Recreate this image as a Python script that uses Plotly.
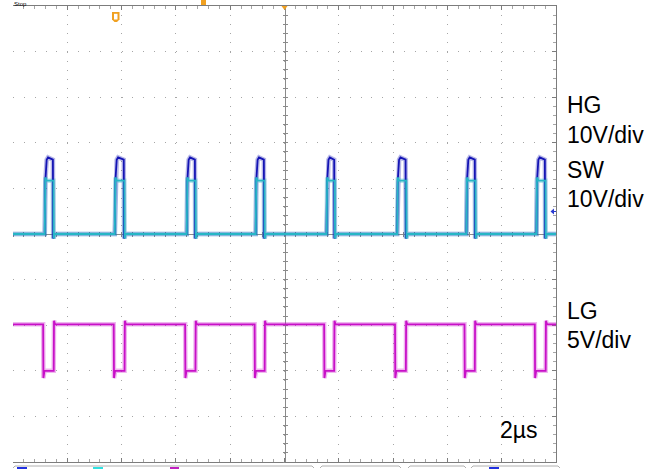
import plotly.graph_objects as go

# ---------------- data (read from the scope capture) ----------------
time_per_div_us = 2.0
hg_volts_per_div = 10.0
sw_volts_per_div = 10.0
lg_volts_per_div = 5.0
hg_offset_div = 0.0
sw_offset_div = 0.0
lg_offset_div = -3.0

# switching edges (µs, relative to screen centre)
hg_rise_us = [-8.83, -6.25, -3.60, -1.06, 1.55, 4.15, 6.70, 9.28]
hg_fall_us = [-8.53, -5.92, -3.30, -0.76, 1.83, 4.46, 7.01, 9.59]
lg_fall_us = [-8.89, -6.29, -3.66, -1.10, 1.46, 4.07, 6.63, 9.22]
lg_rise_us = [-8.50, -5.89, -3.28, -0.73, 1.83, 4.47, 7.01, 9.62]

# levels (V)
hg_high_v = 16.3
hg_peak_v = 16.8
hg_step_v = 11.5
sw_high_v = 11.7
sw_overshoot_v = 12.4
sw_undershoot_v = -1.0
lg_high_v = 5.1
lg_overshoot_v = 5.5
lg_undershoot_v = -0.8

# edge timing details (µs)
hg_step_dt = [0.02, 0.07, 0.12]
sw_fall_delay_us = 0.02
edge_dt = [0.01, 0.05]

screen_start_us = -10.0
screen_end_us = 10.0

# ---------------- build waveforms ----------------
def hg_wave():
    t, v = [screen_start_us], [0.0]
    for r, f in zip(hg_rise_us, hg_fall_us):
        t += [r, r + hg_step_dt[0], r + hg_step_dt[1], r + hg_step_dt[2], f,
              f + edge_dt[0], f + edge_dt[1]]
        v += [0.0, hg_step_v, hg_high_v, hg_peak_v, hg_high_v,
              sw_undershoot_v, 0.0]
    t.append(screen_end_us); v.append(0.0)
    return t, [hg_offset_div + x / hg_volts_per_div for x in v]

def sw_wave():
    t, v = [screen_start_us], [0.0]
    for r, f in zip(hg_rise_us, hg_fall_us):
        fs = f + sw_fall_delay_us
        t += [r, r + hg_step_dt[0], r + hg_step_dt[1], fs,
              fs + edge_dt[0], fs + edge_dt[1]]
        v += [0.0, sw_overshoot_v, sw_high_v, sw_high_v,
              sw_undershoot_v, 0.0]
    t.append(screen_end_us); v.append(0.0)
    return t, [sw_offset_div + x / sw_volts_per_div for x in v]

def lg_wave():
    t, v = [screen_start_us], [lg_high_v]
    for fl, rl in zip(lg_fall_us, lg_rise_us):
        t += [fl, fl + edge_dt[0], fl + edge_dt[1], rl,
              rl + edge_dt[0], rl + edge_dt[1]]
        v += [lg_high_v, lg_undershoot_v, 0.0, 0.0,
              lg_overshoot_v, lg_high_v]
    t.append(screen_end_us); v.append(lg_high_v)
    return t, [lg_offset_div + x / lg_volts_per_div for x in v]

def tdiv(ts):
    return [x / time_per_div_us for x in ts]

# ---------------- figure geometry ----------------
W, H = 666, 469
L, R, T, B = 13, 110, 6, 7
PW, PH = W - L - R, H - T - B

def px(x):
    return (x - L) / PW

def py(y):
    return (H - B - y) / PH

HG_C = "#1414b4"
SW_C = "#26b6c6"
LG_C = "#c810c8"
GRID_C = "#a6a6a6"
EDGE_C = "#7c7c7c"

fig = go.Figure()

waves = [(lg_wave(), LG_C), (hg_wave(), HG_C), (sw_wave(), SW_C)]
# soft band (trace noise look)
for (tt, vv), col in waves:
    fig.add_trace(go.Scatter(x=tdiv(tt), y=vv, mode="lines",
                             line=dict(color=col, width=4.5), opacity=0.3,
                             showlegend=False, hoverinfo="skip"))
for (tt, vv), col in waves:
    fig.add_trace(go.Scatter(x=tdiv(tt), y=vv, mode="lines",
                             line=dict(color=col, width=1.8),
                             showlegend=False, hoverinfo="skip"))
for k in ("2", "3"):
    fig.add_trace(go.Scatter(x=[None], y=[None], xaxis="x" + k,
                             yaxis="y" + k, showlegend=False))

ax_common = dict(showticklabels=False, zeroline=False, layer="below traces")
RULER_C = "#8a8a8a"

fig.update_layout(
    width=W, height=H,
    margin=dict(l=L, r=R, t=T, b=B, pad=0),
    paper_bgcolor="white", plot_bgcolor="white",
    showlegend=False,
    xaxis=dict(range=[-5, 5], tick0=0, dtick=1, showgrid=True,
               gridcolor=GRID_C, gridwidth=1, griddash=f"1px,{PH/50-1:.3f}px",
               showline=True, linecolor=EDGE_C, linewidth=1, mirror="ticks",
               ticks="inside", ticklen=4, tickcolor=EDGE_C,
               minor=dict(ticks="inside", dtick=0.2, ticklen=3,
                          tickcolor=GRID_C, showgrid=False),
               **ax_common),
    yaxis=dict(range=[-5, 5], tick0=0, dtick=1, showgrid=True,
               gridcolor=GRID_C, gridwidth=1, griddash=f"1px,{PW/50-1:.3f}px",
               side="right", showline=True, linecolor=EDGE_C, linewidth=1,
               ticks="inside", ticklen=4, tickcolor=EDGE_C,
               minor=dict(ticks="inside", dtick=0.2, ticklen=3,
                          tickcolor=GRID_C, showgrid=False),
               **ax_common),
    xaxis2=dict(overlaying="x", anchor="free", position=0.5, range=[-5, 5],
                showgrid=False, showline=True, linecolor=RULER_C,
                ticks="inside", tick0=0, dtick=0.2, ticklen=2,
                tickcolor=RULER_C, **ax_common),
    yaxis2=dict(overlaying="y", anchor="free", position=0.5, range=[-5, 5],
                showgrid=False, showline=True, linecolor=RULER_C,
                ticks="inside", tick0=0, dtick=0.2, ticklen=2,
                tickcolor=RULER_C, **ax_common),
    xaxis3=dict(overlaying="x", anchor="free", position=0.5, range=[-5, 5],
                showgrid=False, showline=False,
                ticks="outside", tick0=0, dtick=0.2, ticklen=2,
                tickcolor=RULER_C, **ax_common),
    yaxis3=dict(overlaying="y", anchor="free", position=0.5, range=[-5, 5],
                showgrid=False, showline=False,
                ticks="outside", tick0=0, dtick=0.2, ticklen=2,
                tickcolor=RULER_C, **ax_common),
)

FONT = "Liberation Sans, Arial, sans-serif"
labels = [("HG", 105), ("10V/div", 135), ("SW", 170), ("10V/div", 199),
          ("LG", 311), ("5V/div", 340)]
for txt, yc in labels:
    fig.add_annotation(text=txt, x=px(566), y=py(yc), xref="paper",
                       yref="paper", xanchor="left", yanchor="middle",
                       showarrow=False, borderpad=0,
                       font=dict(family=FONT, size=23, color="black"))
fig.add_annotation(text="2µs", x=px(499), y=py(430), xref="paper",
                   yref="paper", xanchor="left", yanchor="middle",
                   showarrow=False, borderpad=0,
                   font=dict(family=FONT, size=23, color="black"))
fig.add_annotation(text="Stop", x=px(13), y=py(0), xref="paper", yref="paper",
                   xanchor="left", yanchor="top", showarrow=False, borderpad=0,
                   font=dict(family=FONT, size=6, color="black"))

# scope screen markers
ORANGE = "#f0a020"
shapes = []
shapes.append(dict(type="path", xref="paper", yref="paper",
                   path=f"M{px(112)},{py(12)} L{px(119.5)},{py(12)} L{px(119.5)},{py(19.5)} "
                        f"L{px(117)},{py(22)} L{px(114.5)},{py(22)} L{px(112)},{py(19.5)} Z",
                   fillcolor=ORANGE, line=dict(width=0)))
shapes.append(dict(type="rect", xref="paper", yref="paper",
                   x0=px(114), x1=px(117.5), y0=py(13.8), y1=py(19.5),
                   fillcolor="white", line=dict(width=0)))
shapes.append(dict(type="rect", xref="paper", yref="paper",
                   x0=px(201), x1=px(206), y0=py(0), y1=py(5),
                   fillcolor=ORANGE, line=dict(width=0)))
shapes.append(dict(type="path", xref="paper", yref="paper",
                   path=f"M{px(281.5)},{py(6)} L{px(287.5)},{py(6)} L{px(284.5)},{py(10)} Z",
                   fillcolor=ORANGE, line=dict(width=0)))
shapes.append(dict(type="path", xref="paper", yref="paper",
                   path=f"M{px(550.5)},{py(211.5)} L{px(554)},{py(208.5)} L{px(554)},{py(214.5)} Z",
                   fillcolor="#2a3ad0", line=dict(width=0)))
shapes.append(dict(type="line", xref="paper", yref="paper",
                   x0=px(553), x1=px(556), y0=py(211.5), y1=py(211.5),
                   line=dict(color="#2a3ad0", width=1)))
for x0, x1 in [(13, 314), (320, 401), (408, 466), (471, 560)]:
    shapes.append(dict(type="path", xref="paper", yref="paper",
                       path=f"M{px(x0)},{py(468)} L{px(x0+2)},{py(466)} L{px(x1-2)},{py(466)} L{px(x1)},{py(468)}",
                       line=dict(color="#b0b0b0", width=1)))
for x0, x1, c in [(17, 27, "#2030e0"), (93, 103, "#30e0e0"),
                  (170, 179, "#c020c0"), (489, 499, "#2030e0")]:
    shapes.append(dict(type="rect", xref="paper", yref="paper",
                       x0=px(x0), x1=px(x1), y0=py(469), y1=py(467),
                       fillcolor=c, line=dict(width=0)))
fig.update_layout(shapes=shapes)

fig.write_html("out.html",
               config={"displayModeBar": False},
               post_script="document.body.style.margin='0';"
                           "document.body.style.overflow='hidden';")
